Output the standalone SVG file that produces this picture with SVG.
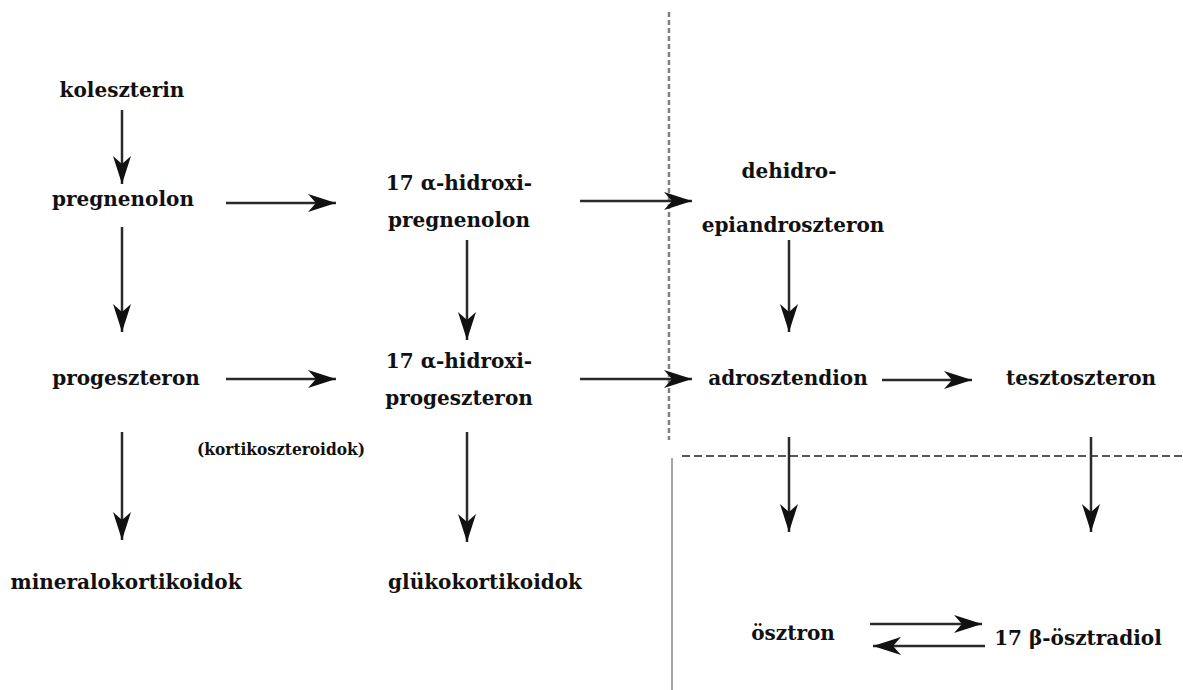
<svg xmlns="http://www.w3.org/2000/svg" width="1183" height="690" viewBox="0 0 1183 690">
<style>
text{font-family:"DejaVu Serif","Liberation Serif",serif;font-weight:bold;font-size:20px;fill:#111;text-anchor:middle}
.small{font-size:16px;font-stretch:condensed}
.arr{stroke:#2a2a2a;stroke-width:2.5;fill:none;marker-end:url(#ah)}
</style>
<defs>
<marker id="ah" markerUnits="userSpaceOnUse" markerWidth="30" markerHeight="20" refX="28" refY="9" orient="auto">
<path d="M0,0 L28,9 L0,18 L8,9 Z" fill="#111"/>
</marker>
</defs>
<rect width="1183" height="690" fill="#fff"/>
<g id="separators">
<line x1="669" y1="12" x2="669" y2="440" stroke="#808080" stroke-width="2.5" stroke-dasharray="5,3"/>
<line x1="682" y1="456" x2="1183" y2="456" stroke="#222" stroke-width="1.5" stroke-dasharray="8,4"/>
<line x1="672" y1="458" x2="672" y2="690" stroke="#888" stroke-width="1.5"/>
</g>
<g id="connectors">
<line class="arr" x1="122" y1="110" x2="122" y2="184"/>
<line class="arr" x1="122" y1="227" x2="122" y2="332"/>
<line class="arr" x1="122" y1="432" x2="122" y2="540"/>
<line class="arr" x1="226" y1="203" x2="336" y2="203"/>
<line class="arr" x1="580" y1="201" x2="692" y2="201"/>
<line class="arr" x1="467" y1="240" x2="467" y2="340"/>
<line class="arr" x1="467" y1="432" x2="467" y2="542"/>
<line class="arr" x1="226" y1="379" x2="336" y2="379"/>
<line class="arr" x1="580" y1="379" x2="692" y2="379"/>
<line class="arr" x1="789" y1="240" x2="789" y2="332"/>
<line class="arr" x1="882" y1="380" x2="972" y2="380"/>
<line class="arr" x1="789" y1="437" x2="789" y2="532"/>
<line class="arr" x1="1091" y1="437" x2="1091" y2="532"/>
<line class="arr" x1="870" y1="624" x2="982" y2="624"/>
<line class="arr" x1="985" y1="646" x2="873" y2="646"/>
</g>
<g id="koleszterin"><text x="122" y="97">koleszterin</text></g>
<g id="pregnenolon"><text x="123" y="206">pregnenolon</text></g>
<g id="progeszteron"><text x="126" y="385">progeszteron</text></g>
<g id="mineralokortikoidok"><text x="126" y="589">mineralokortikoidok</text></g>
<g id="kortikoszteroidok"><text class="small" x="281" y="455" textLength="168" lengthAdjust="spacingAndGlyphs">(kortikoszteroidok)</text></g>
<g id="hidroxipregnenolon"><text x="459" y="190">17 α-hidroxi-</text><text x="459" y="227">pregnenolon</text></g>
<g id="hidroxiprogeszteron"><text x="459" y="368">17 α-hidroxi-</text><text x="459" y="405">progeszteron</text></g>
<g id="glukokortikoidok"><text x="485" y="589">glükokortikoidok</text></g>
<g id="dehidroepiandroszteron"><text x="789" y="178">dehidro-</text><text x="793" y="232">epiandroszteron</text></g>
<g id="adrosztendion"><text x="788" y="385">adrosztendion</text></g>
<g id="tesztoszteron"><text x="1081" y="385">tesztoszteron</text></g>
<g id="osztron"><text x="793" y="640">ösztron</text></g>
<g id="osztradiol"><text x="1078" y="645">17 β-ösztradiol</text></g>
</svg>
